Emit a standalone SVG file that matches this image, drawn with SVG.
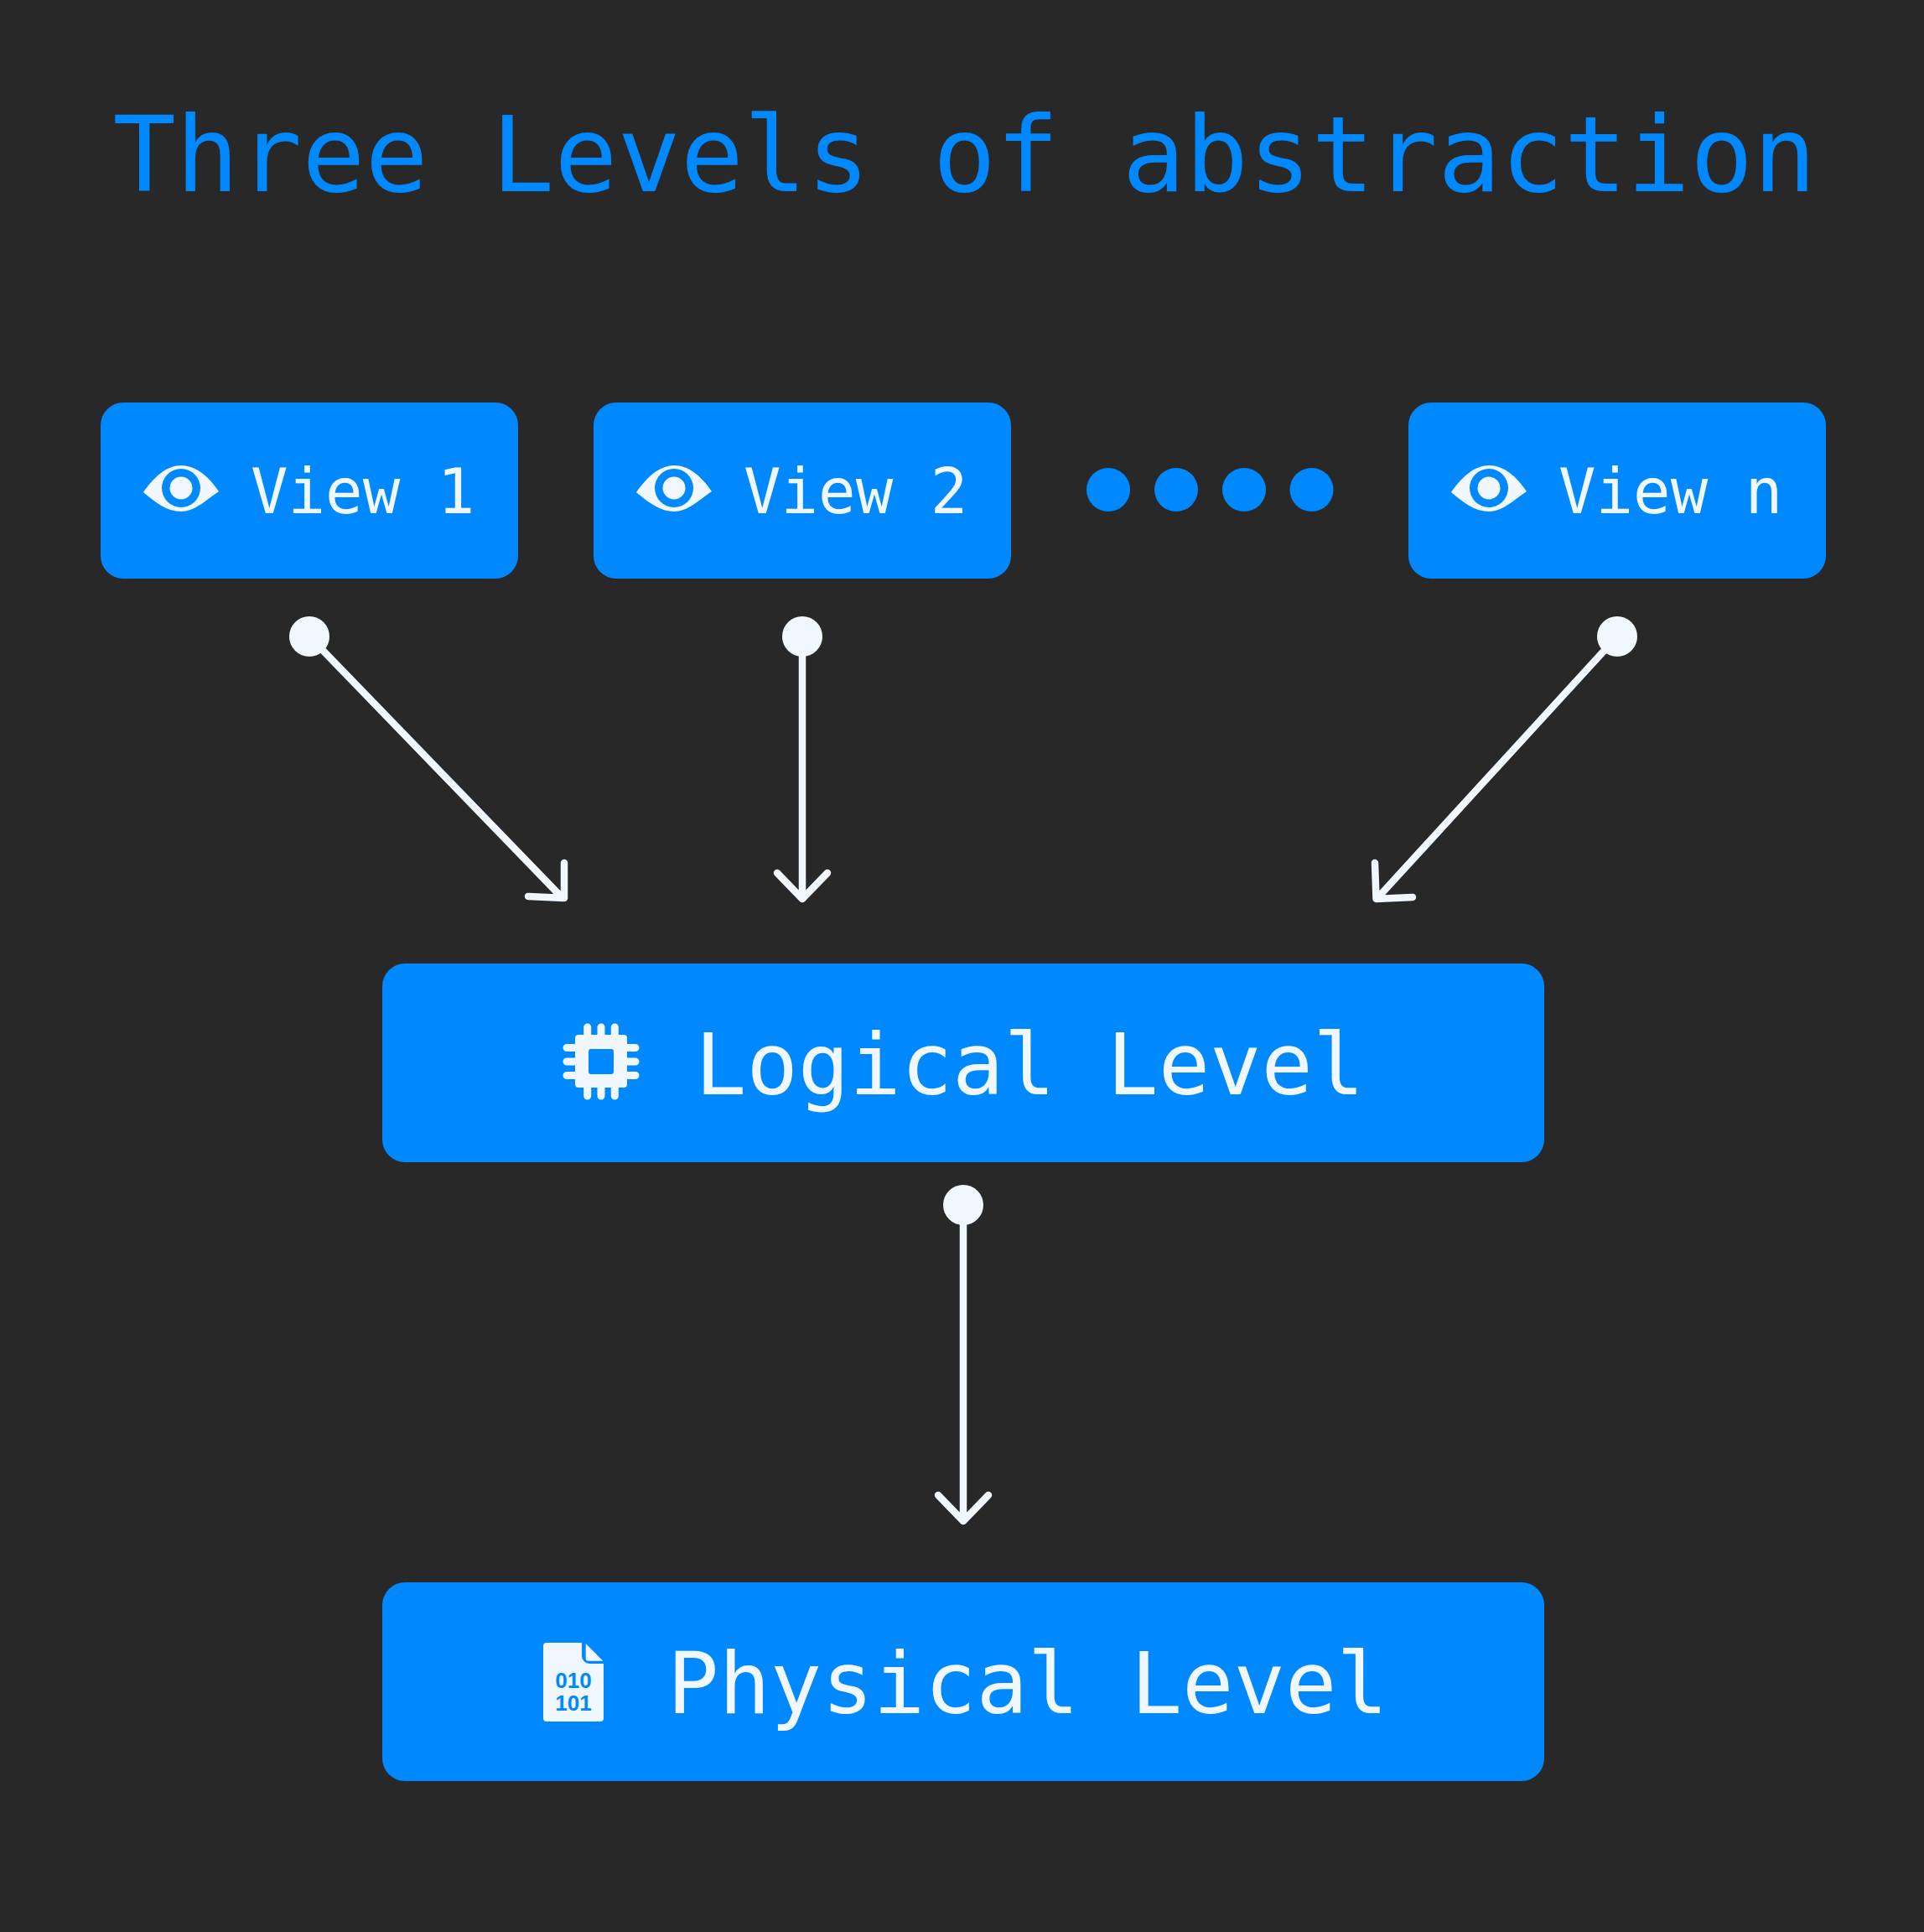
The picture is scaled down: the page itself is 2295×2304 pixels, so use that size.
<svg xmlns="http://www.w3.org/2000/svg" width="2295" height="2304" viewBox="0 0 2295 2304">
<style>
text{font-family:"DejaVu Sans Mono","Liberation Mono",monospace}
.box{fill:#0088ff}
.s{fill:#f0f7ff;font-size:74px}
.b{fill:#f0f7ff;font-size:102px}
.c{stroke:#f0f7ff;stroke-width:8.500;fill:none;stroke-linecap:round;stroke-linejoin:round}
.d{fill:#f0f7ff}
.pin{stroke:#f0f7ff;stroke-width:9;stroke-linecap:round;fill:none}
.n{font-family:"Liberation Sans",Arial,sans-serif;font-size:26px;font-weight:700;fill:#0088ff;text-anchor:middle}
</style>
<defs>
<g id="eye"><path class="d" d="M171 587C185 567 200 555 216 555C233 555 248 567 261 586C245 597 232 610 216 610C200 610 186 600 171 587Z"/><circle cx="216" cy="582" r="23" fill="#0088ff"/><circle class="d" cx="216" cy="582" r="13.500"/></g>
</defs>
<rect width="2295" height="2304" fill="#282828"/>
<text id="title" x="134.500" y="228" font-size="125" fill="#0088ff">Three Levels of abstraction</text>
<g id="view1"><rect class="box" x="120" y="480" width="498" height="210" rx="27"/><use href="#eye"/><text class="s" x="299" y="612">View 1</text></g>
<g id="view2"><rect class="box" x="708" y="480" width="498" height="210" rx="27"/><use href="#eye" x="588"/><text class="s" x="887" y="612">View 2</text></g>
<g id="dots" fill="#0088ff"><circle cx="1322" cy="584" r="26"/><circle cx="1403" cy="584" r="26"/><circle cx="1484" cy="584" r="26"/><circle cx="1564.500" cy="584" r="26"/></g>
<g id="viewn"><rect class="box" x="1680" y="480" width="498" height="210" rx="27"/><use href="#eye" x="1560"/><text class="s" x="1859" y="612">View n</text></g>
<g id="logical"><rect class="box" x="456" y="1149" width="1386" height="237" rx="27"/>
<path class="d" d="M690 1234H744a4 4 0 0 1 4 4V1293a4 4 0 0 1-4 4H690a4 4 0 0 1-4-4V1238a4 4 0 0 1 4-4Z"/>
<path class="pin" d="M700.700 1225V1307M717 1225V1307M733.300 1225V1307M676 1249.500H758M676 1266H758M676 1282.500H758"/>
<rect class="box" x="702" y="1251" width="30" height="30" rx="3"/>
<text class="b" x="829" y="1305">Logical Level</text></g>
<g id="physical"><rect class="box" x="456" y="1887" width="1386" height="237" rx="27"/>
<path class="d" d="M652 1959H694V1975a9 9 0 0 0 9 9H720V2049a4 4 0 0 1-4 4H652a4 4 0 0 1-4-4V1963a4 4 0 0 1 4-4Z"/>
<path class="d" d="M698.700 1960L719.300 1980.700H701.700a3 3 0 0 1-3-3Z"/>
<text class="n" x="684" y="2013">010</text>
<text class="n" x="684" y="2040">101</text>
<text class="b" x="796" y="2043">Physical Level</text></g>
<g id="connectors">
<circle class="d" cx="369" cy="759" r="24"/><path class="c" d="M369 759L671 1071M630 1069L673 1071L673 1029"/>
<circle class="d" cx="957" cy="759" r="24"/><path class="c" d="M957 759V1072M927 1041L957 1072L987 1041"/>
<circle class="d" cx="1929" cy="759" r="24"/><path class="c" d="M1929 759L1643 1071M1640 1029L1641.500 1072L1685 1070"/>
<circle class="d" cx="1149" cy="1437" r="24"/><path class="c" d="M1149 1437V1814M1119 1783L1149 1814L1179 1783"/>
</g>
</svg>
